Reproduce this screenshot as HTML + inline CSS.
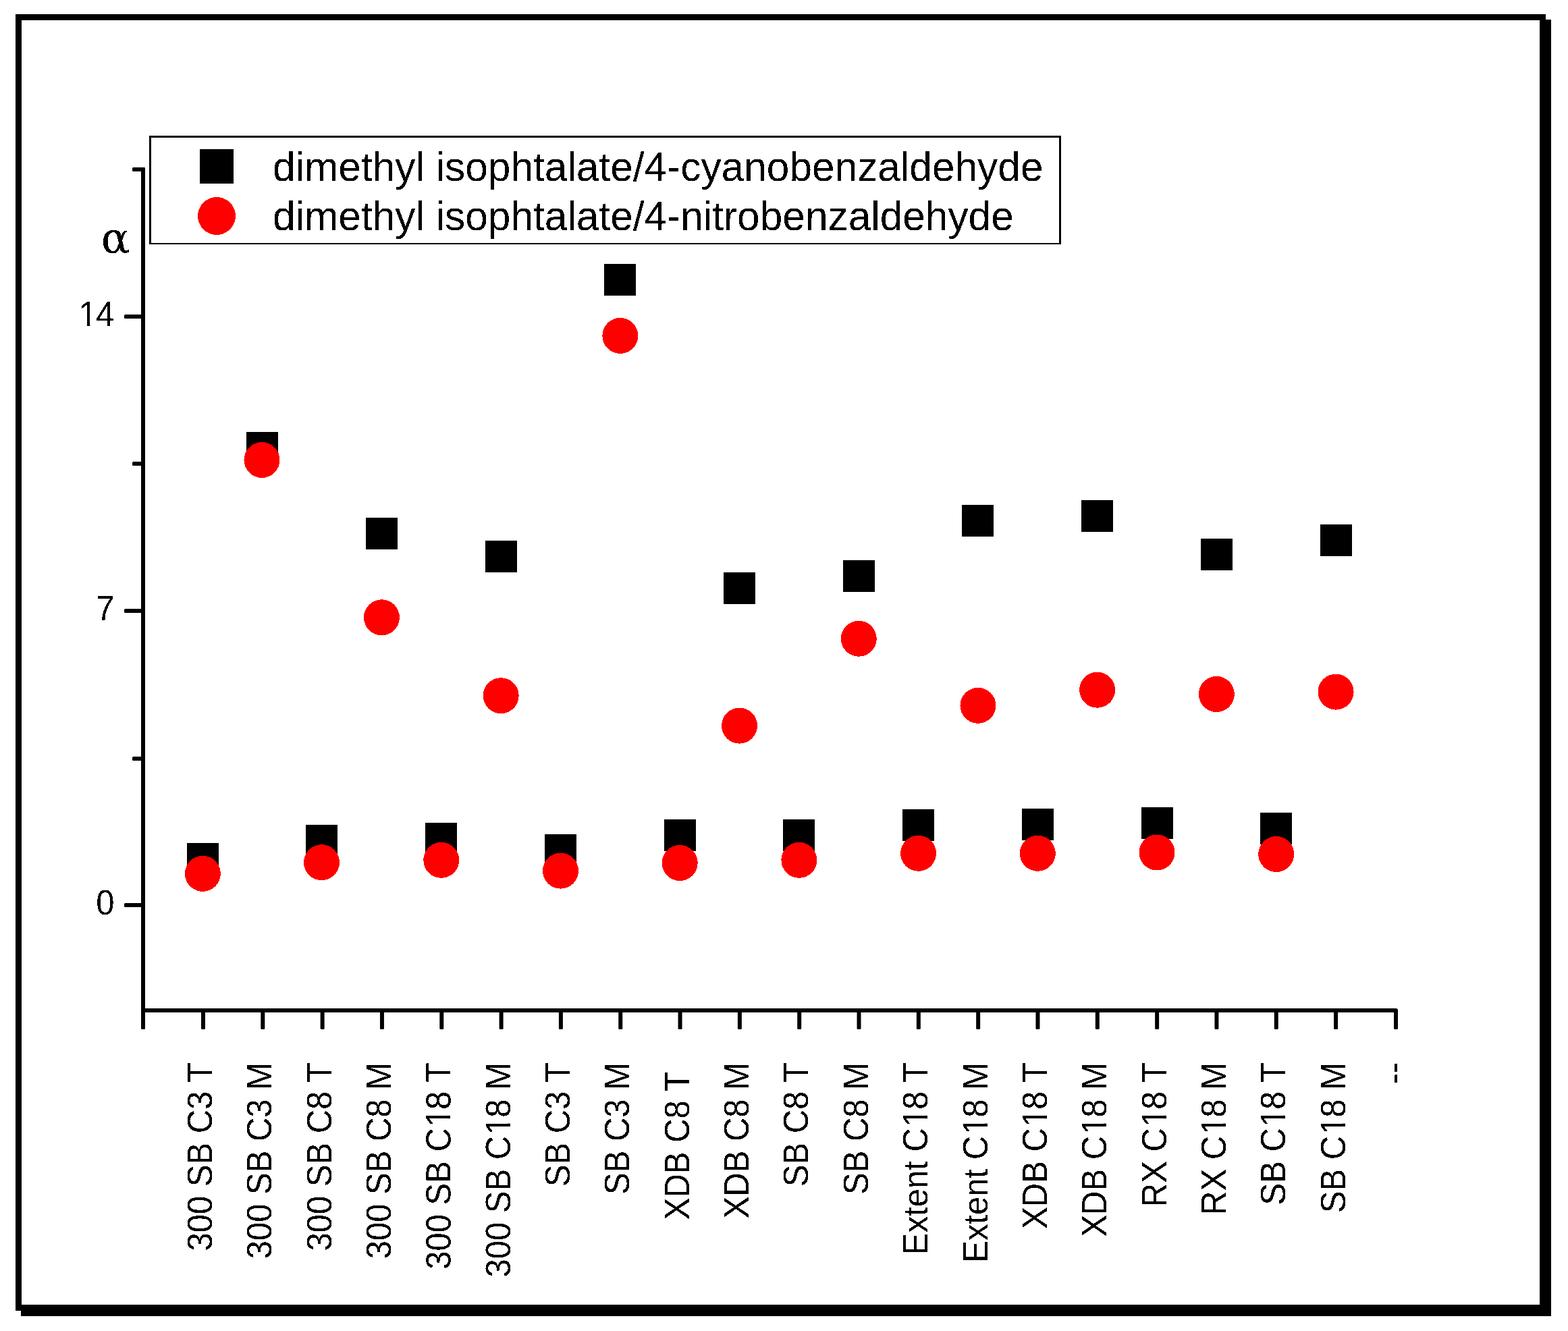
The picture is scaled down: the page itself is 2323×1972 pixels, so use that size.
<!DOCTYPE html><html><head><meta charset="utf-8"><title>alpha chart</title><style>html,body{margin:0;padding:0;background:#fff;overflow:hidden;width:2323px;height:1972px;}svg{display:block;}text{font-family:"Liberation Sans",Arial,sans-serif;fill:#000;}.ser{font-family:"Liberation Serif","Times New Roman",serif;}</style></head><body>
<svg width="2323" height="1972" viewBox="0 0 2323 1972">
<defs><filter id="bin" x="-5%" y="-5%" width="110%" height="110%" color-interpolation-filters="sRGB"><feComponentTransfer><feFuncA type="discrete" tableValues="0 1"/></feComponentTransfer></filter></defs>
<rect x="0" y="0" width="2323" height="1972" fill="#fff"/>
<rect x="31" y="29" width="2267" height="1921" fill="#000" shape-rendering="crispEdges"/>
<rect x="23" y="21" width="2267" height="1921" fill="#000" shape-rendering="crispEdges"/>
<rect x="32" y="30" width="2249" height="1903" fill="#fff" shape-rendering="crispEdges"/>
<g fill="#000">
<rect x="196" y="248" width="19" height="6" rx="1.5"/>
<rect x="209" y="248" width="6" height="1277" rx="1.5"/>
<path d="M212 1497H2068V1515" fill="none" stroke="#000" stroke-width="6" stroke-linejoin="round"/>
<rect x="2065" y="1505" width="6" height="20" rx="1.5"/>
<rect x="184" y="466" width="30" height="6" rx="1.5"/>
<rect x="184" y="902" width="30" height="6" rx="1.5"/>
<rect x="184" y="1338" width="30" height="6" rx="1.5"/>
<rect x="196" y="684" width="18" height="6" rx="1.5"/>
<rect x="196" y="1121" width="18" height="6" rx="1.5"/>
<rect x="298.00" y="1495" width="6" height="30" rx="1.5"/>
<rect x="386.32" y="1495" width="6" height="30" rx="1.5"/>
<rect x="474.64" y="1495" width="6" height="30" rx="1.5"/>
<rect x="562.96" y="1495" width="6" height="30" rx="1.5"/>
<rect x="651.28" y="1495" width="6" height="30" rx="1.5"/>
<rect x="739.60" y="1495" width="6" height="30" rx="1.5"/>
<rect x="827.92" y="1495" width="6" height="30" rx="1.5"/>
<rect x="916.24" y="1495" width="6" height="30" rx="1.5"/>
<rect x="1004.56" y="1495" width="6" height="30" rx="1.5"/>
<rect x="1092.88" y="1495" width="6" height="30" rx="1.5"/>
<rect x="1181.20" y="1495" width="6" height="30" rx="1.5"/>
<rect x="1269.52" y="1495" width="6" height="30" rx="1.5"/>
<rect x="1357.84" y="1495" width="6" height="30" rx="1.5"/>
<rect x="1446.16" y="1495" width="6" height="30" rx="1.5"/>
<rect x="1534.48" y="1495" width="6" height="30" rx="1.5"/>
<rect x="1622.80" y="1495" width="6" height="30" rx="1.5"/>
<rect x="1711.12" y="1495" width="6" height="30" rx="1.5"/>
<rect x="1799.44" y="1495" width="6" height="30" rx="1.5"/>
<rect x="1887.76" y="1495" width="6" height="30" rx="1.5"/>
<rect x="1976.08" y="1495" width="6" height="30" rx="1.5"/>
</g>
<g font-size="49" text-anchor="end" filter="url(#bin)">
<text transform="translate(167.9 483) scale(1 1.04)"><tspan dx="1.6">1</tspan><tspan dx="-1.6">4</tspan></text>
<text transform="translate(169.5 919) scale(1 1.04)">7</text>
<text transform="translate(169.5 1355) scale(1 1.04)">0</text>
</g>
<g fill="#fff"><g transform="translate(169.50 483) scale(1 1.04)"><rect x="-50.36" y="-4.66" width="9.79" height="5.86"/><rect x="-36.24" y="-4.66" width="9.41" height="5.86"/></g></g>
<text filter="url(#bin)" x="147.7" y="375" font-size="64" style="font-family:'DejaVu Math TeX Gyre','Liberation Serif',serif">α</text>
<g font-size="49" text-anchor="end" filter="url(#bin)">
<text transform="translate(313.80 1574) rotate(-90) scale(1 1.04)">300 SB C3 T</text>
<text transform="translate(402.17 1574) rotate(-90) scale(1 1.04)">300 SB C3 M</text>
<text transform="translate(490.54 1574) rotate(-90) scale(1 1.04)">300 SB C8 T</text>
<text transform="translate(578.90 1574) rotate(-90) scale(1 1.04)">300 SB C8 M</text>
<text transform="translate(667.27 1574) rotate(-90) scale(1 1.04)">300 SB C<tspan dx="1.6">1</tspan><tspan dx="-1.6">8</tspan> T</text>
<text transform="translate(755.64 1574) rotate(-90) scale(1 1.04)">300 SB C<tspan dx="1.6">1</tspan><tspan dx="-1.6">8</tspan> M</text>
<text transform="translate(844.01 1574) rotate(-90) scale(1 1.04)">SB C3 T</text>
<text transform="translate(932.38 1574) rotate(-90) scale(1 1.04)">SB C3 M</text>
<text transform="translate(1020.74 1574) rotate(-90) scale(1 1.04)">XDB C8 T </text>
<text transform="translate(1109.11 1574) rotate(-90) scale(1 1.04)">XDB C8 M</text>
<text transform="translate(1197.48 1574) rotate(-90) scale(1 1.04)">SB C8 T</text>
<text transform="translate(1285.85 1574) rotate(-90) scale(1 1.04)">SB C8 M</text>
<text transform="translate(1374.22 1574) rotate(-90) scale(1 1.04)">Extent C<tspan dx="1.6">1</tspan><tspan dx="-1.6">8</tspan> T</text>
<text transform="translate(1462.58 1574) rotate(-90) scale(1 1.04)">Extent C<tspan dx="1.6">1</tspan><tspan dx="-1.6">8</tspan> M</text>
<text transform="translate(1550.95 1574) rotate(-90) scale(1 1.04)">XDB C<tspan dx="1.6">1</tspan><tspan dx="-1.6">8</tspan> T</text>
<text transform="translate(1639.32 1574) rotate(-90) scale(1 1.04)">XDB C<tspan dx="1.6">1</tspan><tspan dx="-1.6">8</tspan> M</text>
<text transform="translate(1727.69 1574) rotate(-90) scale(1 1.04)">RX C<tspan dx="1.6">1</tspan><tspan dx="-1.6">8</tspan> T</text>
<text transform="translate(1816.06 1574) rotate(-90) scale(1 1.04)">RX C<tspan dx="1.6">1</tspan><tspan dx="-1.6">8</tspan> M</text>
<text transform="translate(1904.42 1574) rotate(-90) scale(1 1.04)">SB C<tspan dx="1.6">1</tspan><tspan dx="-1.6">8</tspan> T</text>
<text transform="translate(1992.79 1574) rotate(-90) scale(1 1.04)">SB C<tspan dx="1.6">1</tspan><tspan dx="-1.6">8</tspan> M</text>
<text transform="translate(2082.16 1574) rotate(-90) scale(1 1.04)">--</text>
</g>
<g fill="#fff">
<g transform="translate(667.27 1574) rotate(-90) scale(1 1.04)"><rect x="-93.00" y="-4.66" width="9.79" height="5.86"/><rect x="-78.88" y="-4.66" width="9.41" height="5.86"/></g>
<g transform="translate(755.64 1574) rotate(-90) scale(1 1.04)"><rect x="-104.77" y="-4.66" width="9.79" height="5.86"/><rect x="-90.65" y="-4.66" width="9.41" height="5.86"/></g>
<g transform="translate(1374.22 1574) rotate(-90) scale(1 1.04)"><rect x="-93.00" y="-4.66" width="9.79" height="5.86"/><rect x="-78.88" y="-4.66" width="9.41" height="5.86"/></g>
<g transform="translate(1462.58 1574) rotate(-90) scale(1 1.04)"><rect x="-104.77" y="-4.66" width="9.79" height="5.86"/><rect x="-90.65" y="-4.66" width="9.41" height="5.86"/></g>
<g transform="translate(1550.95 1574) rotate(-90) scale(1 1.04)"><rect x="-93.00" y="-4.66" width="9.79" height="5.86"/><rect x="-78.88" y="-4.66" width="9.41" height="5.86"/></g>
<g transform="translate(1639.32 1574) rotate(-90) scale(1 1.04)"><rect x="-104.77" y="-4.66" width="9.79" height="5.86"/><rect x="-90.65" y="-4.66" width="9.41" height="5.86"/></g>
<g transform="translate(1727.69 1574) rotate(-90) scale(1 1.04)"><rect x="-93.00" y="-4.66" width="9.79" height="5.86"/><rect x="-78.88" y="-4.66" width="9.41" height="5.86"/></g>
<g transform="translate(1816.06 1574) rotate(-90) scale(1 1.04)"><rect x="-104.77" y="-4.66" width="9.79" height="5.86"/><rect x="-90.65" y="-4.66" width="9.41" height="5.86"/></g>
<g transform="translate(1904.42 1574) rotate(-90) scale(1 1.04)"><rect x="-93.00" y="-4.66" width="9.79" height="5.86"/><rect x="-78.88" y="-4.66" width="9.41" height="5.86"/></g>
<g transform="translate(1992.79 1574) rotate(-90) scale(1 1.04)"><rect x="-104.77" y="-4.66" width="9.79" height="5.86"/><rect x="-90.65" y="-4.66" width="9.41" height="5.86"/></g>
</g>
<g fill="#000" shape-rendering="crispEdges">
<rect x="276.90" y="1249.1" width="47" height="47"/>
<rect x="364.50" y="640.0" width="47" height="47"/>
<rect x="453.00" y="1221.9" width="47" height="47"/>
<rect x="541.95" y="767.3" width="47" height="47"/>
<rect x="630.30" y="1218.9" width="47" height="47"/>
<rect x="718.65" y="801.2" width="47" height="47"/>
<rect x="807.00" y="1235.7" width="47" height="47"/>
<rect x="895.35" y="390.9" width="47" height="47"/>
<rect x="983.70" y="1213.9" width="47" height="47"/>
<rect x="1072.05" y="848.0" width="47" height="47"/>
<rect x="1160.40" y="1213.9" width="47" height="47"/>
<rect x="1248.75" y="830.2" width="47" height="47"/>
<rect x="1337.10" y="1198.8" width="47" height="47"/>
<rect x="1425.45" y="747.9" width="47" height="47"/>
<rect x="1513.80" y="1198.0" width="47" height="47"/>
<rect x="1602.15" y="740.7" width="47" height="47"/>
<rect x="1690.50" y="1195.9" width="47" height="47"/>
<rect x="1778.85" y="798.0" width="47" height="47"/>
<rect x="1867.20" y="1203.9" width="47" height="47"/>
<rect x="1955.55" y="777.3" width="47" height="47"/>
</g>
<g fill="#f00" shape-rendering="crispEdges">
<circle cx="300.40" cy="1294.4" r="26.5"/>
<circle cx="388.00" cy="681.5" r="26.5"/>
<circle cx="476.50" cy="1277.7" r="26.5"/>
<circle cx="565.45" cy="914.8" r="26.5"/>
<circle cx="653.80" cy="1274.3" r="26.5"/>
<circle cx="742.15" cy="1030.7" r="26.5"/>
<circle cx="830.50" cy="1290.2" r="26.5"/>
<circle cx="918.85" cy="497.4" r="26.5"/>
<circle cx="1007.20" cy="1278.5" r="26.5"/>
<circle cx="1095.55" cy="1075.2" r="26.5"/>
<circle cx="1183.90" cy="1274.3" r="26.5"/>
<circle cx="1272.25" cy="946.2" r="26.5"/>
<circle cx="1360.60" cy="1264.3" r="26.5"/>
<circle cx="1448.95" cy="1045.3" r="26.5"/>
<circle cx="1537.30" cy="1264.3" r="26.5"/>
<circle cx="1625.65" cy="1022.2" r="26.5"/>
<circle cx="1714.00" cy="1263.0" r="26.5"/>
<circle cx="1802.35" cy="1028.5" r="26.5"/>
<circle cx="1890.70" cy="1265.5" r="26.5"/>
<circle cx="1979.05" cy="1025.1" r="26.5"/>
</g>
<rect x="221" y="201" width="1351" height="161" fill="#000" shape-rendering="crispEdges"/>
<rect x="224" y="204" width="1345" height="156" fill="#fff" shape-rendering="crispEdges"/>
<rect x="296" y="221" width="50" height="51" fill="#000"/>
<circle cx="321" cy="320" r="28" fill="#f00" shape-rendering="crispEdges"/>
<g filter="url(#bin)"><text x="404" y="268" font-size="60.4">dimethyl isophtalate/4-cyanobenzaldehyde</text>
<text x="404" y="341" font-size="60.4">dimethyl isophtalate/4-nitrobenzaldehyde</text></g>
</svg></body></html>
